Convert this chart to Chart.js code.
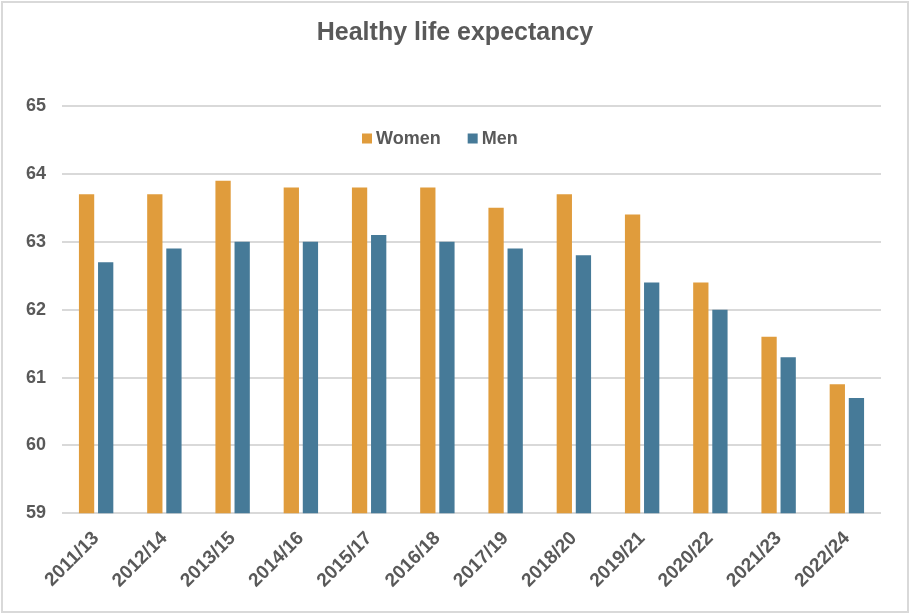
<!DOCTYPE html>
<html>
<head>
<meta charset="utf-8">
<script src="https://cdn.jsdelivr.net/npm/chart.js@4/dist/chart.umd.min.js"></script>
<style>
  html, body { margin: 0; padding: 0; background: #fff; }
  #wrap { position: relative; width: 910px; height: 614px; }
  canvas { display: block; position: absolute; left: 0; top: 0; }
  #frame { position: absolute; left: 1px; top: 1px; right: 1px; bottom: 1px; border: 2px solid #d9d9d9; pointer-events: none; }
</style>
</head>
<body>
<div id="wrap"><canvas id="c" width="910" height="614"></canvas><div id="frame"></div></div>
<script>
const categories = ["2011/13","2012/14","2013/15","2014/16","2015/17","2016/18","2017/19","2018/20","2019/21","2020/22","2021/23","2022/24"];
const women = [63.7, 63.7, 63.9, 63.8, 63.8, 63.8, 63.5, 63.7, 63.4, 62.4, 61.6, 60.9];
const men   = [62.7, 62.9, 63.0, 63.0, 63.1, 63.0, 62.9, 62.8, 62.4, 62.0, 61.3, 60.7];
const yTicks = [59, 60, 61, 62, 63, 64, 65];

const textColor = '#595959';
const fontFamily = '"Liberation Sans", Arial, sans-serif';

// Horizontal legend drawn inside the plot area (as in the reference)
const insideLegend = {
  id: 'insideLegend',
  afterDraw(chart) {
    const ctx = chart.ctx;
    const area = chart.chartArea;
    const font = 'bold 18px ' + fontFamily;
    let x = area.left + 300;
    const y = area.top + 32.5;
    const box = 10;
    ctx.save();
    ctx.font = font;
    ctx.textBaseline = 'middle';
    ctx.textAlign = 'left';
    chart.data.datasets.forEach((ds) => {
      ctx.fillStyle = ds.backgroundColor;
      ctx.fillRect(x, y - box / 2, box, box);
      x += box + 4;
      ctx.fillStyle = textColor;
      ctx.fillText(ds.label, x, y + 1);
      x += ctx.measureText(ds.label).width + 27;
    });
    ctx.restore();
  }
};

new Chart(document.getElementById('c'), {
  type: 'bar',
  data: {
    labels: categories,
    datasets: [
      { label: 'Women', data: women, backgroundColor: '#E09C3C', categoryPercentage: 0.56, barPercentage: 0.8 },
      { label: 'Men', data: men, backgroundColor: '#467A98', categoryPercentage: 0.56, barPercentage: 0.8 }
    ]
  },
  plugins: [insideLegend],
  options: {
    responsive: false,
    animation: false,
    devicePixelRatio: 1,
    layout: { padding: { left: 0, right: 0, top: 0, bottom: 16 } },
    plugins: {
      title: {
        display: true,
        text: 'Healthy life expectancy',
        color: textColor,
        font: { family: fontFamily, size: 25, weight: 'bold' },
        padding: { top: 18, bottom: 58 }
      },
      legend: { display: false },
      tooltip: { enabled: false }
    },
    scales: {
      x: {
        grid: { display: false },
        border: { display: false },
        ticks: {
          color: textColor,
          font: { family: fontFamily, size: 19, weight: 'bold' },
          minRotation: 45,
          maxRotation: 45,
          padding: 6
        }
      },
      y: {
        min: 59,
        max: 65,
        afterBuildTicks: (scale) => { scale.ticks = yTicks.map(v => ({ value: v })); },
        afterFit: (scale) => { scale.width = 62; },
        grid: { color: '#d9d9d9', lineWidth: 2, drawTicks: false },
        border: { display: false },
        ticks: {
          color: textColor,
          font: { family: fontFamily, size: 18, weight: 'bold' },
          padding: 16
        }
      },
      // empty right-hand margin so the title stays centred on the whole figure
      yRight: {
        position: 'right',
        min: 59,
        max: 65,
        afterFit: (scale) => { scale.width = 29; },
        grid: { display: false, drawTicks: false },
        border: { display: false },
        ticks: { display: false }
      }
    }
  }
});
</script>
</body>
</html>
